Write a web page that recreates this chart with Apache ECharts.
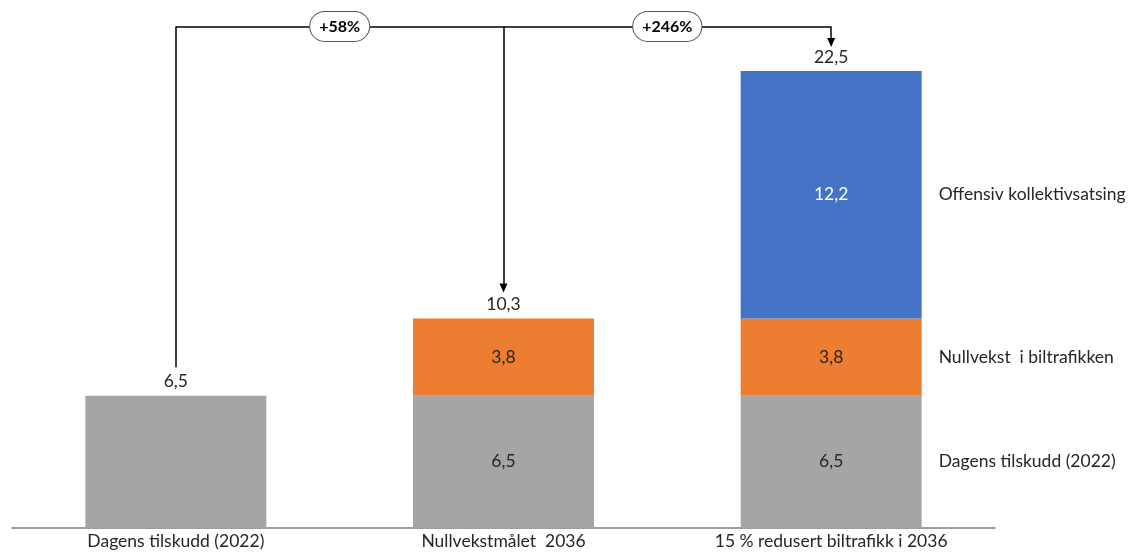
<!DOCTYPE html>
<html>
<head>
<meta charset="utf-8">
<script src="https://cdn.jsdelivr.net/npm/echarts@6/dist/echarts.min.js"></script>
<style>
html, body { margin: 0; padding: 0; background: #fff; }
#main { width: 1131px; height: 553px; }
</style>
</head>
<body>
<div id="main"></div>
<script>
// data
var categories = ['Dagens tilskudd (2022)', 'Nullvekstmålet  2036', '15 % redusert biltrafikk i 2036'];
var seriesNames = ['Dagens tilskudd (2022)', 'Nullvekst  i biltrafikken', 'Offensiv kollektivsatsing'];
var dagens = [6.5, 6.5, 6.5];
var nullvekst = [0, 3.8, 3.8];
var offensiv = [0, 0, 12.2];
var totals = [6.5, 10.3, 22.5];
var changes = ['+58%', '+246%'];

var colors = ['#A5A5A5', '#ED7D31', '#4472C4'];
var font = 'Lato, "Open Sans", sans-serif';
var fs = 17.5;
var lineLevel = 24.7;

function fmt(v) { return v.toFixed(1).replace('.', ','); }

var myChart = echarts.init(document.getElementById('main'));

var values = [dagens, nullvekst, offensiv];
var series = [];

// stacked segments
values.forEach(function (vals, i) {
	series.push({
		name: seriesNames[i],
		type: 'bar',
		stack: 'main',
		barWidth: 181,
		itemStyle: { color: colors[i] },
		label: {
			show: true,
			position: 'inside',
			fontFamily: font,
			fontSize: fs,
			color: i == 2 ? '#fff' : '#262626',
			formatter: function (p) { return fmt(p.value); }
		},
		data: vals.map(function (v, j) {
			var item = { value: v };
			// first bar shows only its total above
			if (v == 0 || (i == 0 && j == 0)) item.label = { show: false };
			return item;
		})
	});
});

// transparent copies, used for the names right of the last bar
values.forEach(function (vals, i) {
	series.push({
		type: 'bar',
		stack: 'names',
		barWidth: 181,
		barGap: '-100%',
		silent: true,
		itemStyle: { color: 'rgba(0,0,0,0)' },
		label: { show: false },
		data: vals.map(function (v, j) {
			var item = { value: v };
			if (j == 2) {
				item.label = {
					show: true,
					position: 'right',
					distance: 17,
					fontFamily: font,
					fontSize: fs,
					color: '#262626',
					formatter: seriesNames[i]
				};
			}
			return item;
		})
	});
});

// totals on top + connectors
series.push({
	type: 'bar',
	stack: 'main',
	barWidth: 181,
	silent: true,
	itemStyle: { color: 'rgba(0,0,0,0)' },
	label: {
		show: true,
		position: 'top',
		distance: 5,
		fontFamily: font,
		fontSize: fs,
		color: '#262626',
		formatter: function (p) { return fmt(totals[p.dataIndex]); }
	},
	data: [0, 0, 0],
	markLine: {
		silent: true,
		animation: false,
		symbol: ['none', 'none'],
		lineStyle: { color: '#000', width: 1.5, type: 'solid' },
		label: { show: false },
		data: [
			[{ coord: [categories[0], totals[0] + 1.4] }, { coord: [categories[0], lineLevel] }],
			[
				{ coord: [categories[0], lineLevel], label: { show: true, formatter: changes[0] } },
				{ coord: [categories[1], lineLevel] }
			],
			[
				{ coord: [categories[1], lineLevel], label: { show: true, formatter: changes[1] } },
				{ coord: [categories[2], lineLevel] }
			],
			[{ coord: [categories[1], lineLevel] }, { coord: [categories[1], totals[1] + 1.5], symbol: 'triangle', symbolSize: [8, 9] }],
			[{ coord: [categories[2], lineLevel] }, { coord: [categories[2], totals[2] + 1.4], symbol: 'triangle', symbolSize: [8, 9] }]
		]
	}
});

// label style shared by the two change bubbles
series[series.length - 1].markLine.data.forEach(function (seg) {
	if (seg[0].label) {
		seg[0].label.position = 'middle';
		seg[0].label.distance = 0;
		seg[0].label.verticalAlign = 'middle';
		seg[0].label.fontFamily = font;
		seg[0].label.fontSize = 16;
		seg[0].label.fontWeight = 'bold';
		seg[0].label.color = '#000';
		seg[0].label.backgroundColor = '#fff';
		seg[0].label.borderColor = '#555';
		seg[0].label.borderWidth = 1;
		seg[0].label.borderRadius = 15;
		seg[0].label.padding = [7, 9, 6, 9];
	}
});

var option = {
	animation: false,
	grid: { left: 12, right: 136, top: 0, bottom: 25.5, containLabel: false },
	xAxis: {
		type: 'category',
		data: categories,
		axisTick: { show: false },
		axisLine: { lineStyle: { color: '#7f7f7f', width: 1.5 } },
		axisLabel: { fontFamily: font, fontSize: fs, color: '#262626', margin: 5, interval: 0 }
	},
	yAxis: {
		type: 'value',
		min: 0,
		max: 26,
		show: false,
		splitLine: { show: false }
	},
	series: series
};
myChart.setOption(option);
</script>
</body>
</html>
